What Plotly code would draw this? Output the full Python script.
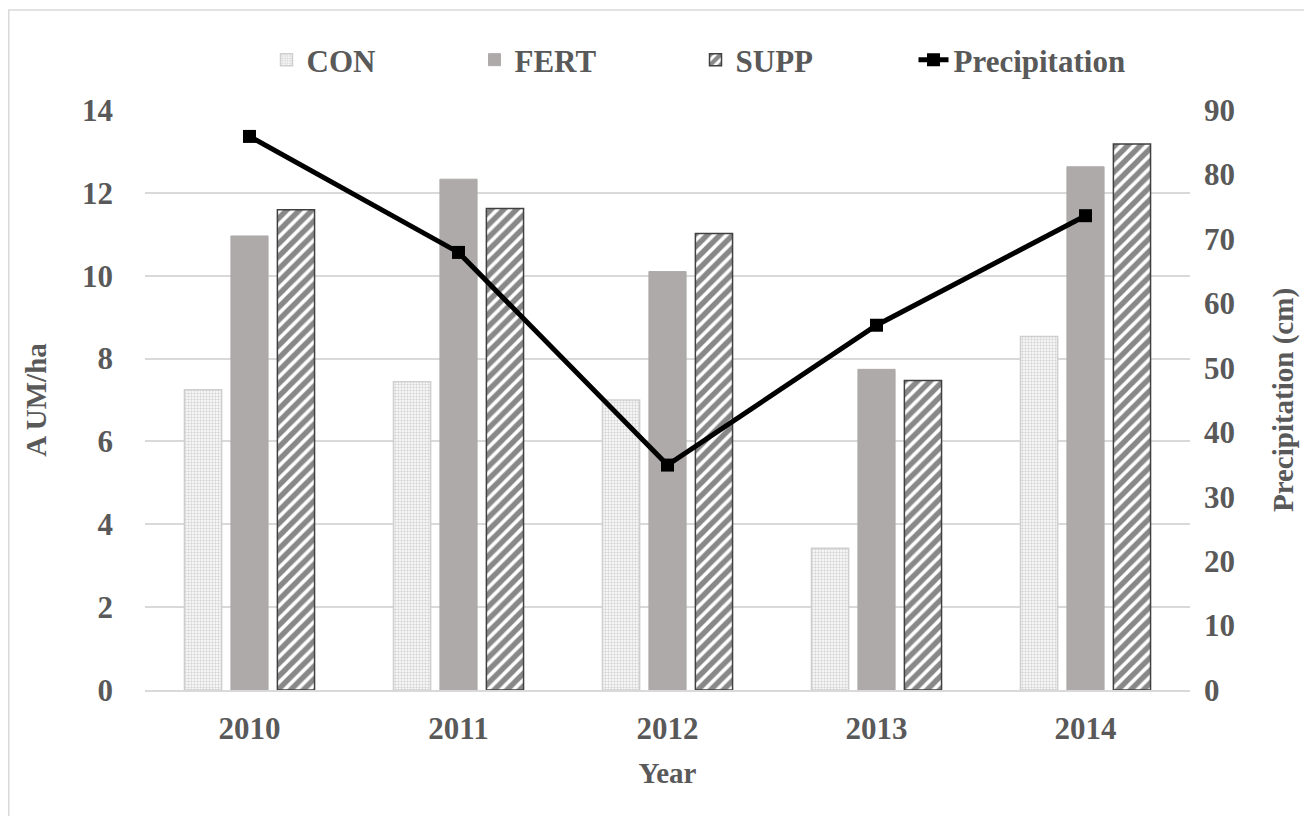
import plotly.graph_objects as go

years = ["2010", "2011", "2012", "2013", "2014"]
con = [7.25, 7.44, 7.0, 3.42, 8.53]
fert = [10.96, 12.33, 10.1, 7.74, 12.63]
supp = [11.59, 11.62, 11.02, 7.47, 13.18]
precip = [85.9, 67.9, 34.9, 56.6, 73.6]

FONT = "Liberation Serif"
GREY = "#595959"

# plot area in figure pixels
L, T, W, H = 137, 102, 1045, 580


def px(xp):
    return (xp - L) / W


def py(yp):
    return (T + H - yp) / H


fig = go.Figure()
fig.add_trace(go.Bar(
    x=years, y=con, name="CON", legend="legend", showlegend=True,
    marker=dict(color="white", line=dict(color="#cfcfcf", width=1.5),
                pattern=dict(shape=".", fgcolor="#adadad", bgcolor="white", size=3, solidity=0.5)),
))
fig.add_trace(go.Bar(
    x=years, y=fert, name="FERT", legend="legend2", showlegend=True,
    marker=dict(color="#aeaaaa", line=dict(color="#aeaaaa", width=1)),
))
fig.add_trace(go.Bar(
    x=years, y=supp, name="SUPP", legend="legend3", showlegend=True,
    marker=dict(color="white", line=dict(color="#404040", width=1.5),
                pattern=dict(shape="/", fgcolor="#111111", bgcolor="white", size=9, solidity=0.6)),
))
fig.add_trace(go.Scatter(
    x=years, y=precip, name="Precipitation", yaxis="y2", legend="legend4", showlegend=True,
    mode="lines+markers",
    line=dict(color="black", width=5),
    marker=dict(symbol="square", size=13, color="black"),
))

leg_font = dict(family=FONT, size=31, color=GREY, weight="bold")


def leg(xpix):
    return dict(x=px(xpix), xanchor="left", y=py(52), yanchor="middle",
                font=leg_font, bgcolor="rgba(0,0,0,0)", itemwidth=30, visible=True)


fig.update_layout(
    width=1312, height=816,
    paper_bgcolor="white", plot_bgcolor="white",
    margin=dict(l=L, r=1312 - L - W, t=T, b=816 - T - H),
    barmode="group", bargap=0.333, bargroupgap=0.2,
    showlegend=True,
    font=dict(family=FONT, color=GREY, size=31, weight="bold"),
    legend=leg(258.5),
    legend2=leg(466.5),
    legend3=leg(687.5),
    legend4=leg(905.5),
    xaxis=dict(title=dict(text="Year", font=dict(size=29, weight="bold"), standoff=18),
               showgrid=False, showline=True, linecolor="#d9d9d9", linewidth=1.5,
               ticks="", ticklabelstandoff=10, tickfont=dict(size=31, weight="bold")),
    yaxis=dict(title=dict(text="A UM/ha", font=dict(size=29, weight="bold"), standoff=26),
               range=[0, 14], dtick=2, showgrid=True, gridcolor="#d9d9d9", gridwidth=1.5,
               zeroline=False, ticks="", ticklabelstandoff=31, tickfont=dict(size=31, weight="bold")),
    yaxis2=dict(title=dict(text="Precipitation (cm)", font=dict(size=29, weight="bold"), standoff=38),
                overlaying="y", side="right", range=[0, 90], dtick=10, showgrid=False,
                zeroline=False, ticks="", ticklabelstandoff=13, tickfont=dict(size=31, weight="bold")),
    shapes=[
        dict(type="line", xref="paper", yref="paper",
             x0=px(0), x1=px(1312), y0=py(2), y1=py(2),
             line=dict(color="#d9d9d9", width=1.5)),
        dict(type="line", xref="paper", yref="paper",
             x0=px(0.75), x1=px(0.75), y0=py(2), y1=py(816),
             line=dict(color="#d9d9d9", width=1.5)),
    ],
)

fig.write_html("out.html")
